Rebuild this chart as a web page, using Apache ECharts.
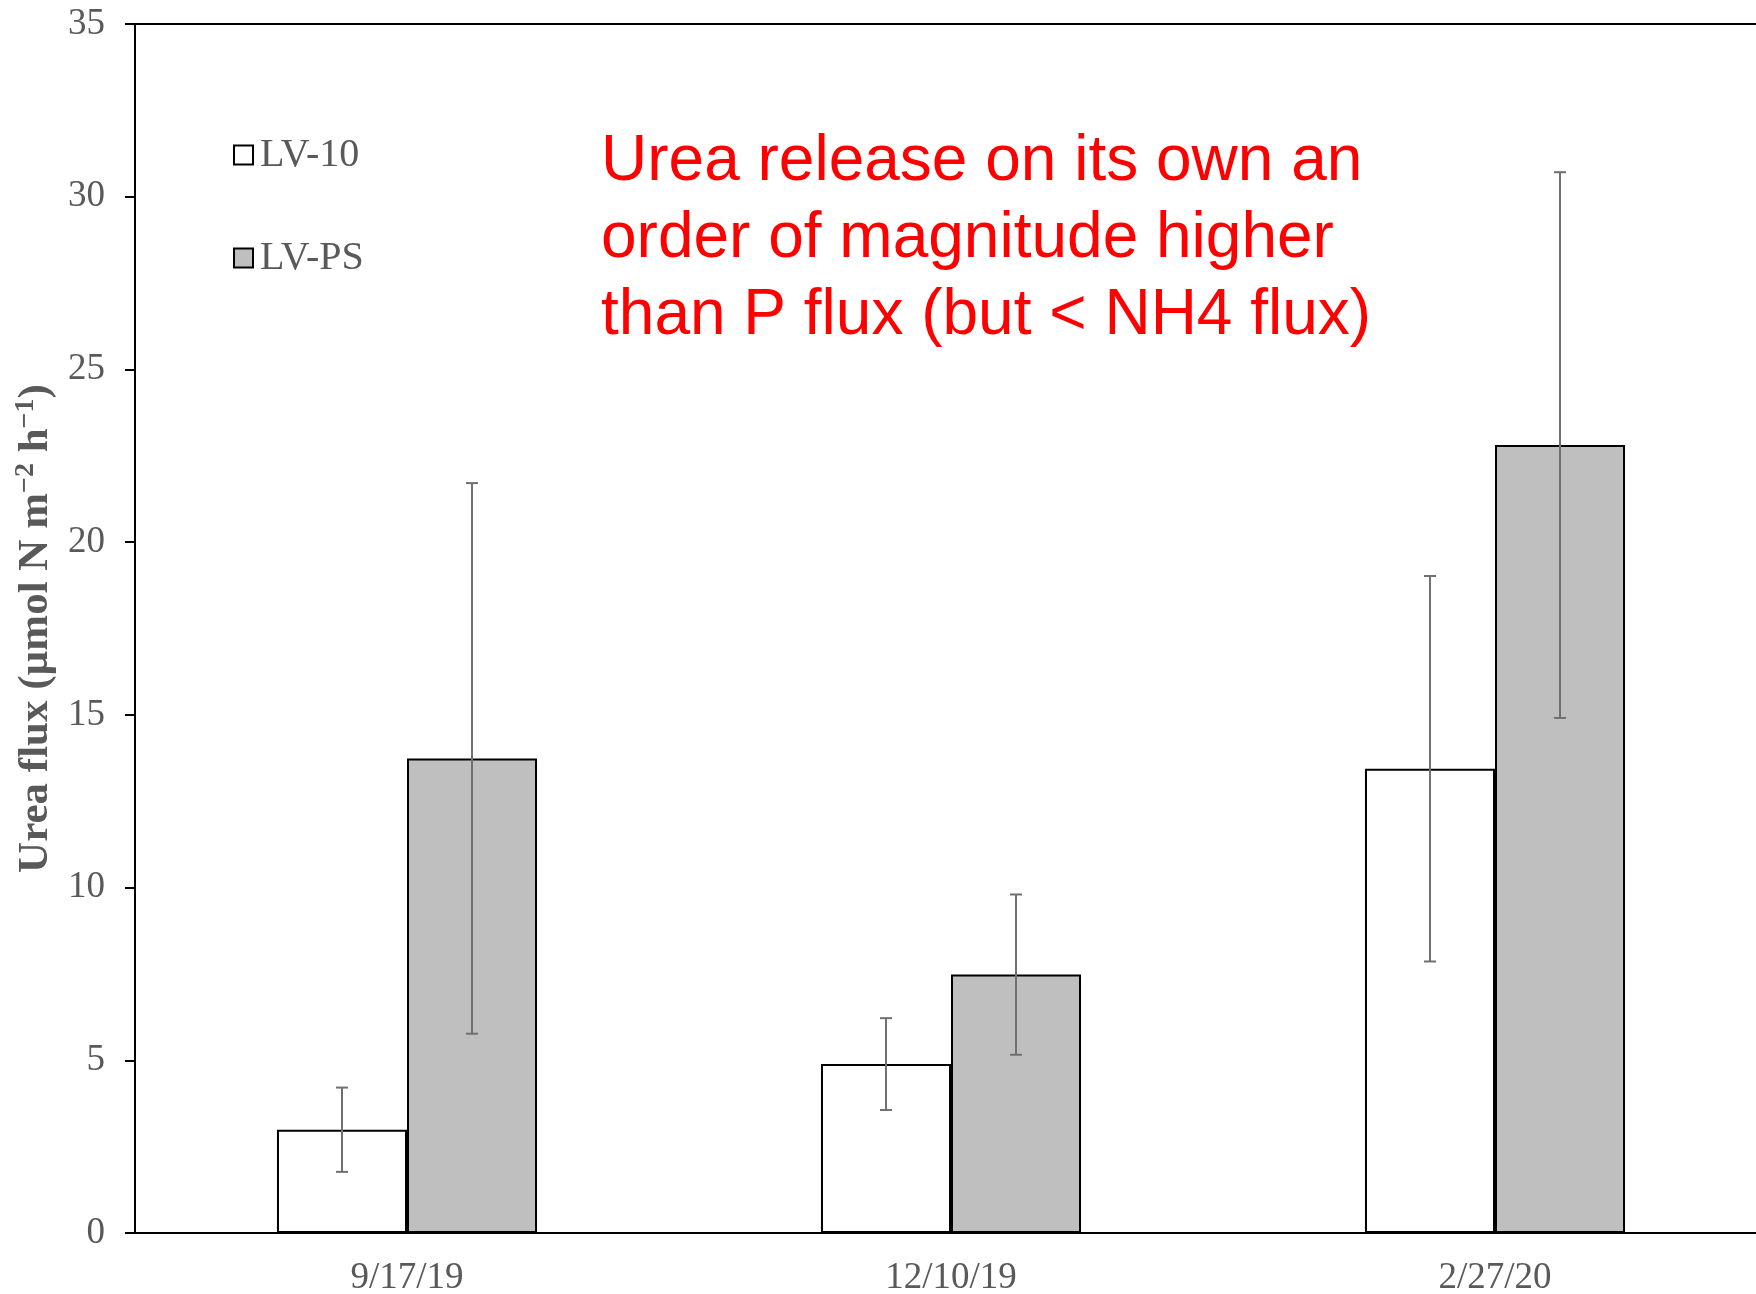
<!DOCTYPE html>
<html><head><meta charset="utf-8">
<script src="https://cdn.jsdelivr.net/npm/echarts@6/dist/echarts.min.js"></script>
<style>html,body{margin:0;padding:0;background:#fff}#c{width:1756px;height:1294px}</style>
</head><body><div id="c"></div>
<script>
const categories = ['9/17/19', '12/10/19', '2/27/20'];
const seriesNames = ['LV-10', 'LV-PS'];
const lv10 = [2.99, 4.89, 13.44];
const lv10Err = [1.22, 1.33, 5.58];
const lvps = [13.74, 7.48, 22.81];
const lvpsErr = [7.97, 2.32, 7.90];
const annotationLines = ['Urea release on its own an', 'order of magnitude higher', 'than P flux (but < NH4 flux)'];

const CAT_GAP = 0.522;
const SERIF = '"Liberation Serif", "Times New Roman", serif';
const SANS = '"Liberation Sans", Arial, sans-serif';
const GREY_TXT = '#595959';

function errRender(sign) {
  return function (params, api) {
    const i = api.value(0), m = api.value(1), e = api.value(2);
    const band = api.size([1, 0])[0];
    const bw = band * (1 - CAT_GAP) / 2;
    const c = api.coord([i, m]);
    const x = c[0] + sign * bw / 2;
    const yTop = api.coord([i, m + e])[1];
    const yBot = api.coord([i, m - e])[1];
    const cap = 6;
    const st = { stroke: '#707070', lineWidth: 2 };
    return { type: 'group', children: [
      { type: 'line', shape: { x1: x, y1: yTop, x2: x, y2: yBot }, style: st },
      { type: 'line', shape: { x1: x - cap, y1: yTop, x2: x + cap, y2: yTop }, style: st },
      { type: 'line', shape: { x1: x - cap, y1: yBot, x2: x + cap, y2: yBot }, style: st }
    ]};
  };
}

const chart = echarts.init(document.getElementById('c'));
chart.setOption({
  animation: false,
  backgroundColor: '#fff',
  grid: { left: 135, top: 24, width: 1632, height: 1209, show: true, borderColor: '#000', borderWidth: 2,
    outerBoundsMode: 'none', containLabel: false },
  legend: {
    data: seriesNames, orient: 'vertical', left: 228, top: 130, itemWidth: 19, itemHeight: 19, itemGap: 63,
    icon: 'rect',
    textStyle: { fontFamily: SERIF, fontSize: 40, color: GREY_TXT, lineHeight: 40, padding: [0, 0, 0, 2] }
  },
  xAxis: {
    type: 'category', data: categories,
    axisLine: { lineStyle: { color: '#000', width: 2 } },
    axisTick: { show: false },
    axisLabel: { color: GREY_TXT, fontFamily: SERIF, fontSize: 37, margin: 27 }
  },
  yAxis: {
    type: 'value', min: 0, max: 35, interval: 5,
    name: '{b|Urea flux (µmol N m}{s|−2}{b| h}{s|−1}{b|)}',
    nameLocation: 'middle', nameGap: 72,
    nameTextStyle: {
      rich: {
        b: { fontFamily: SERIF, fontSize: 43, fontWeight: 'bold', color: GREY_TXT, lineHeight: 47 },
        s: { fontFamily: SERIF, fontSize: 28, fontWeight: 'bold', color: GREY_TXT, lineHeight: 28, verticalAlign: 'top' }
      }
    },
    axisLine: { show: true, lineStyle: { color: '#000', width: 2 } },
    axisTick: { show: true, length: 10, lineStyle: { color: '#000', width: 2 } },
    splitLine: { show: false },
    axisLabel: { color: GREY_TXT, fontFamily: SERIF, fontSize: 37, margin: 30 }
  },
  graphic: [{
    type: 'text', left: 601, top: 124, z: 100,
    style: { text: annotationLines.join('\n'), fontFamily: SANS, fontSize: 64, lineHeight: 77, fill: '#ff0000' }
  }],
  series: [
    { name: seriesNames[0], type: 'bar', data: lv10, barGap: '0%', barCategoryGap: (CAT_GAP * 100) + '%',
      itemStyle: { color: '#ffffff', borderColor: '#000', borderWidth: 2 } },
    { name: seriesNames[1], type: 'bar', data: lvps, barGap: '0%', barCategoryGap: (CAT_GAP * 100) + '%',
      itemStyle: { color: '#bfbfbf', borderColor: '#000', borderWidth: 2 } },
    { name: 'err1', type: 'custom', renderItem: errRender(-1), encode: { x: 0, y: 1 }, z: 10,
      data: categories.map((c, i) => [i, lv10[i], lv10Err[i]]) },
    { name: 'err2', type: 'custom', renderItem: errRender(1), encode: { x: 0, y: 1 }, z: 10,
      data: categories.map((c, i) => [i, lvps[i], lvpsErr[i]]) }
  ]
});
</script></body></html>
